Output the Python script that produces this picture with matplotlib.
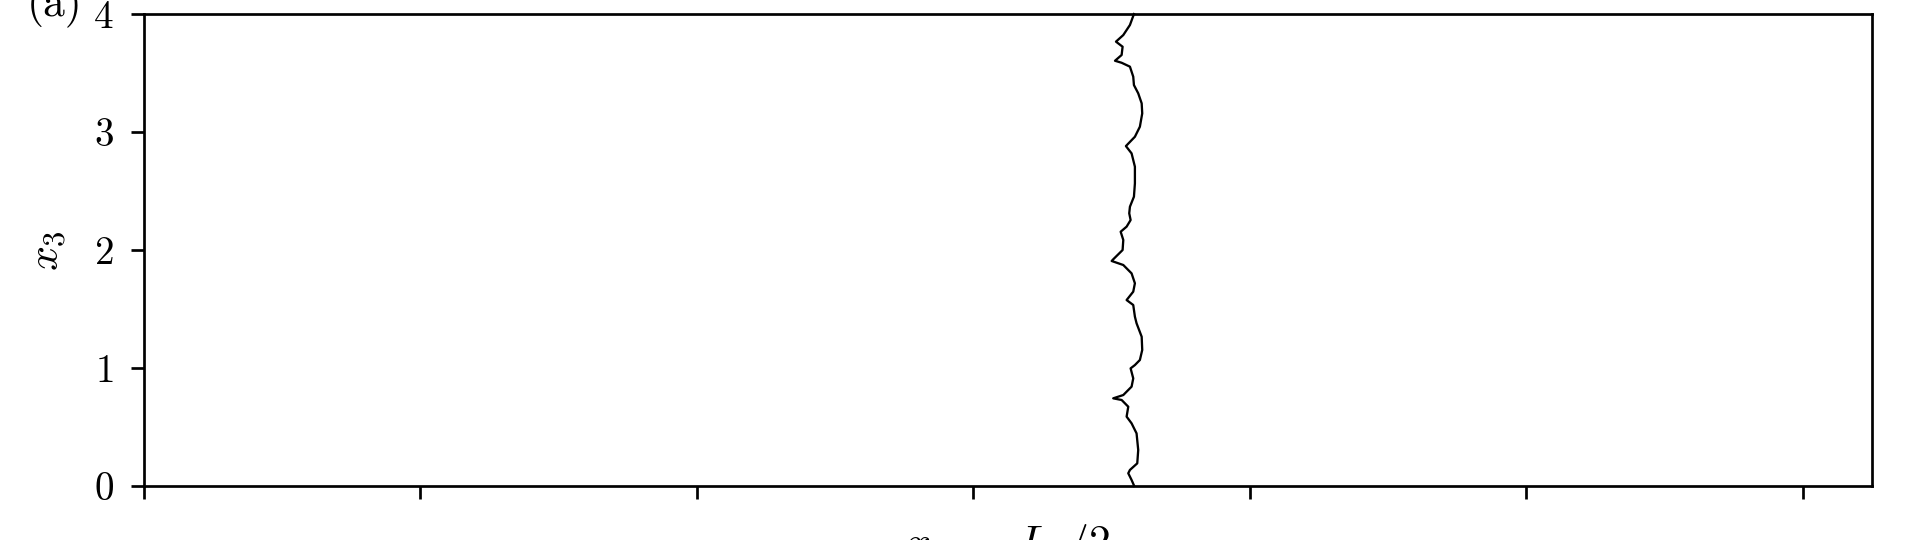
import matplotlib
matplotlib.use("Agg")
import matplotlib.pyplot as plt

# Interface position (x1 - L1/2 versus x3)
x1_interface = [
    1.161, 1.132, 1.084, 1.031, 1.079, 1.072, 1.024, 1.072, 1.132, 1.156,
    1.161, 1.192, 1.217, 1.221, 1.204, 1.168, 1.103, 1.144, 1.168, 1.168,
    1.161, 1.132, 1.127, 1.137, 1.108, 1.065, 1.084, 1.079, 1.011, 1.000,
    1.084, 1.144, 1.168, 1.156, 1.108, 1.156, 1.168, 1.180, 1.217, 1.221,
    1.204, 1.168, 1.137, 1.156, 1.144, 1.084, 1.011, 1.072, 1.120, 1.108,
    1.144, 1.180, 1.192, 1.185, 1.132, 1.120, 1.144, 1.163,
]
x3_interface = [
    4.000, 3.907, 3.822, 3.766, 3.723, 3.653, 3.604, 3.587, 3.554, 3.469,
    3.398, 3.328, 3.243, 3.158, 3.045, 2.960, 2.881, 2.819, 2.706, 2.565,
    2.452, 2.367, 2.311, 2.254, 2.198, 2.155, 2.085, 2.000, 1.921, 1.907,
    1.873, 1.802, 1.718, 1.647, 1.576, 1.534, 1.435, 1.379, 1.265, 1.153,
    1.068, 1.025, 0.997, 0.912, 0.842, 0.771, 0.743, 0.729, 0.672, 0.588,
    0.531, 0.446, 0.305, 0.192, 0.136, 0.108, 0.051, 0.000,
]

x_ticks = [-6, -4, -2, 0, 2, 4, 6]
y_ticks = [0, 1, 2, 3, 4]
x_limits = (-6, 6.5)
y_limits = (0, 4)

plt.rcParams.update({
    "font.family": "serif",
    "font.serif": ["cmr10"],
    "mathtext.fontset": "cm",
    "axes.formatter.use_mathtext": True,
    "font.size": 9.4,
    "axes.linewidth": 0.65,
    "xtick.major.width": 0.65,
    "ytick.major.width": 0.65,
    "xtick.major.size": 3.1,
    "ytick.major.size": 3.1,
    "ytick.major.pad": 4.2,
})

fig = plt.figure(figsize=(6.4, 1.8), dpi=300)
ax = fig.add_axes([0.075, 0.1, 0.9, 0.874])

ax.plot(x1_interface, x3_interface, color="black", lw=0.55, clip_on=False,
        solid_joinstyle="round")

ax.set_xlim(*x_limits)
ax.set_ylim(*y_limits)
ax.set_xticks(x_ticks)
ax.set_yticks(y_ticks)
ax.tick_params(labelbottom=False)

ax.set_xlabel(r"$x_1 \;-\; L_1/2$", fontsize=10.5, labelpad=5.5)
ax.set_ylabel(r"$x_3$", fontsize=10.5, labelpad=6)
ax.text(-0.0355, 0.995, "(a)", transform=ax.transAxes, ha="right",
        va="baseline", fontsize=10.5)

fig.savefig("out.png", dpi=300)
